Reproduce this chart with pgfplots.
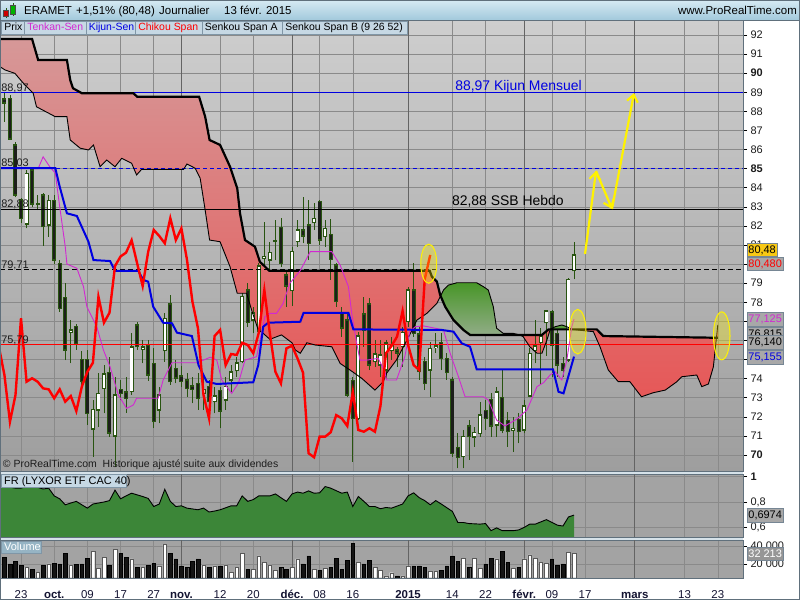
\documentclass[border=0pt]{standalone}
\usepackage{fontspec}
\setmainfont{Liberation Sans}
\usepackage{pgfplots}
\usepackage{pgfplotstable}
\pgfplotsset{compat=1.18}
\usetikzlibrary{arrows.meta}

\definecolor{bgtop}{RGB}{206,206,206}
\definecolor{bgbot}{RGB}{158,158,158}
\definecolor{panelbg}{RGB}{163,163,163}
\definecolor{gridc}{RGB}{138,138,138}
\definecolor{monthc}{RGB}{100,100,100}
\definecolor{framec}{RGB}{96,112,124}
\definecolor{sepc}{RGB}{214,226,233}
\definecolor{wickc}{RGB}{40,84,16}
\definecolor{bodyblack}{RGB}{28,30,26}
\definecolor{tenkan}{RGB}{210,40,210}
\definecolor{kijun}{RGB}{0,0,225}
\definecolor{chikou}{RGB}{255,0,0}
\definecolor{redtop}{RGB}{214,152,152}
\definecolor{redbot}{RGB}{230,88,88}
\definecolor{greentop}{RGB}{72,150,40}
\definecolor{greenbot}{RGB}{145,172,135}
\definecolor{rsgreen}{RGB}{60,134,56}
\definecolor{titletop}{RGB}{214,234,243}
\definecolor{titlebot}{RGB}{162,201,220}
\definecolor{tagfill}{RGB}{198,216,228}
\definecolor{tagedge}{RGB}{128,150,166}
\definecolor{boxfill}{RGB}{168,168,168}
\definecolor{boxedge}{RGB}{118,134,148}
\definecolor{datec}{RGB}{20,20,50}
\definecolor{txtc}{RGB}{28,28,28}

% daily candles: index (0 = 23 Sept 2014), open, high, low, close, volume
\pgfplotstableread{
i o h l c v
-3 88.65 89.00 87.45 88.44 27000
-2 88.68 88.85 86.50 86.54 20000
-1 86.24 86.40 83.50 83.62 23300
0 83.36 83.45 82.14 82.40 18900
1 82.10 84.93 81.87 84.76 16300
2 84.93 85.05 82.98 83.15 14400
3 83.12 83.62 82.83 83.17 10800
4 83.62 83.71 80.96 81.96 18900
5 82.05 83.62 81.43 83.32 20000
6 83.32 83.62 80.00 80.21 20800
7 80.04 80.20 77.50 77.68 20000
8 78.26 79.00 74.97 75.50 31900
9 76.43 77.07 74.80 76.55 18900
10 76.72 76.85 75.50 75.85 19600
11 75.00 75.46 73.31 73.84 20000
12 75.00 75.50 71.57 72.18 26300
13 71.35 72.90 69.91 72.39 34400
14 72.36 74.28 71.48 73.23 15200
15 73.49 74.71 72.18 74.24 27400
16 74.31 75.15 70.96 71.14 18900
17 70.99 74.10 69.39 73.14 36300
18 73.44 73.93 72.88 73.23 31900
19 73.31 74.10 72.20 72.97 27000
20 73.31 76.37 73.14 75.67 25600
21 76.81 76.98 75.50 75.67 16300
22 75.54 76.02 74.80 75.67 16300
23 75.76 76.00 73.90 74.19 18900
24 74.80 75.59 71.40 71.74 20800
25 72.36 73.58 71.66 73.14 17800
26 75.46 77.42 74.89 77.16 41900
27 77.91 78.38 73.67 73.84 31900
28 74.54 74.98 73.75 74.02 25600
29 74.14 74.66 73.58 73.84 17800
30 73.93 74.28 73.05 73.49 15900
31 73.61 74.10 72.71 73.44 23300
32 73.75 74.28 72.36 72.97 25600
33 73.23 74.10 72.36 73.44 18900
34 73.58 73.93 72.18 72.79 15900
35 72.79 73.58 72.18 73.09 17800
36 73.37 73.58 71.40 72.30 17800
37 72.88 74.10 72.36 73.58 18900
38 73.93 74.71 73.31 74.36 10800
39 74.41 75.15 74.10 74.83 16300
40 74.89 78.47 74.80 78.29 31900
41 78.64 78.99 76.72 76.93 14400
42 77.07 77.77 76.37 77.45 14400
43 76.46 80.04 76.37 79.90 28900
44 80.30 82.20 79.85 80.40 21900
45 80.21 81.17 79.69 80.60 18900
46 81.20 82.30 80.20 81.25 13300
47 81.93 82.40 79.86 80.04 16300
48 79.43 79.69 77.77 78.85 14400
49 78.60 80.91 77.80 80.65 16300
50 81.17 82.30 80.91 81.79 25600
51 81.79 83.53 81.09 81.47 20000
52 82.05 83.36 80.21 81.09 28900
53 82.17 83.18 81.79 82.40 14400
54 83.27 83.36 81.00 81.26 13300
55 81.43 82.30 80.91 81.87 15200
56 81.56 82.34 79.17 80.25 15900
57 79.95 80.04 77.77 78.03 26300
58 77.42 77.77 76.20 76.64 14400
59 77.07 77.50 73.05 73.14 24400
60 73.89 74.10 69.65 71.92 43000
61 71.92 76.46 71.83 76.23 21900
62 77.38 78.29 75.67 76.55 20000
63 77.91 78.21 74.45 74.71 24400
64 74.89 76.02 74.62 75.29 16300
65 74.71 76.02 74.10 75.24 13300
66 74.45 76.02 73.93 75.88 6700
67 75.46 76.20 74.98 75.76 10300
68 75.50 75.67 74.62 75.33 6700
69 75.67 76.72 74.62 76.41 6700
70 76.98 78.82 76.72 78.64 17800
71 78.64 80.04 76.20 76.37 17800
72 76.34 76.72 73.93 74.36 17800
73 74.89 75.15 73.40 73.75 16300
74 74.45 75.93 73.05 75.59 11500
75 75.62 76.37 75.33 75.72 11500
76 75.90 76.37 74.45 75.06 13300
77 75.06 75.33 73.93 74.31 17800
78 73.93 74.10 69.91 70.09 28900
79 70.40 71.13 69.30 69.88 23300
80 69.91 71.31 69.30 70.96 26300
81 71.52 71.83 69.74 70.96 16300
82 70.93 71.48 70.43 71.19 26300
83 71.13 72.79 70.96 72.09 15200
84 72.32 72.88 71.31 71.92 20000
85 72.92 73.23 70.96 71.52 26300
86 71.57 73.58 70.96 73.31 25600
87 73.02 74.45 71.13 71.31 34400
88 71.80 72.27 70.43 71.22 21900
89 71.28 72.00 70.17 71.40 15200
90 71.87 72.18 70.61 71.22 15900
91 71.31 72.88 71.13 72.57 25600
92 73.09 75.59 73.05 75.33 30000
93 75.46 77.07 74.80 75.71 26300
94 75.88 76.64 73.67 76.20 21900
95 76.93 77.60 75.20 77.54 20800
96 77.50 77.60 74.10 75.76 25600
97 76.37 76.55 74.10 74.71 18900
98 74.80 75.15 74.10 74.45 20000
99 74.98 79.25 74.89 79.20 33000
100 79.65 81.17 79.20 80.48 32213
}\ohlc

\pgfplotstableread{
i p
-3.8 85.03
3.1 85.00
4.0 85.62
5.2 85.10
6.2 84.76
7.0 83.00
8.0 80.91
8.3 80.00
10.1 79.78
11.3 78.82
11.9 77.77
13.7 76.72
14.9 75.50
16.1 74.62
17.6 73.14
19.1 72.44
20.3 72.62
20.9 72.97
24.8 72.97
25.7 73.93
27.3 74.83
31.8 74.83
33.0 74.97
34.2 75.12
35.4 74.97
36.3 73.93
38.1 73.23
39.3 73.75
40.5 74.97
42.6 75.15
44.1 77.24
45.0 77.42
46.2 77.42
47.4 77.94
48.6 78.99
50.5 79.66
52.3 80.65
56.2 80.65
57.7 79.95
59.2 78.82
59.8 77.42
60.7 75.85
61.3 74.97
62.5 74.97
64.6 75.06
65.8 74.36
66.1 73.93
67.9 73.93
69.4 75.15
70.3 76.46
71.3 76.72
72.8 76.76
74.9 76.64
76.4 76.55
77.6 75.33
79.1 74.10
80.3 73.05
83.6 73.05
84.5 72.88
86.0 71.83
87.5 71.52
89.6 71.87
91.5 72.36
93.3 73.58
94.5 73.79
95.7 74.20
96.6 74.36
97.8 73.93
98.7 74.97
99.6 76.72
100 77.125
}\tenkan

\pgfplotstableread{
i p
-3.8 85.03
6.2 85.03
7.0 84.05
8.3 82.66
10.1 82.52
12.2 81.17
13.1 80.21
16.1 80.16
17.0 79.65
21.2 79.65
22.1 79.17
23.0 79.08
23.9 77.77
25.7 76.93
27.3 76.90
28.2 76.41
30.9 76.23
32.1 74.71
33.6 73.84
35.4 73.72
42.0 73.81
42.9 74.71
43.8 76.72
44.7 76.93
50.5 76.98
51.1 77.45
59.2 77.45
60.1 76.58
76.1 76.55
78.2 76.46
79.7 75.85
81.2 75.67
82.4 74.49
96.2 74.49
97.2 73.31
98.1 73.23
100 75.155
}\kijun

\pgfplotstableread{
i p
-3.8 90.34
-2.9 90.17
-1.1 89.99
0.7 89.38
2.2 88.95
2.8 88.24
6.2 87.72
8.3 87.72
8.9 86.50
10.7 86.07
12.2 85.98
13.1 86.24
14.3 85.10
15.5 85.45
17.0 85.10
18.2 85.54
20.0 85.28
20.9 84.67
21.8 84.96
29.4 84.96
30.0 85.24
31.5 85.02
32.4 84.49
33.3 82.83
34.1 81.26
36.0 81.17
37.8 79.86
39.1 78.47
40.8 78.47
41.7 77.59
42.9 76.55
43.8 76.37
45.0 76.06
47.1 76.29
49.0 75.88
49.6 75.50
50.5 75.33
51.7 75.88
53.2 75.76
56.2 75.67
57.7 74.80
59.5 74.45
61.6 74.02
64.0 73.40
65.5 73.84
66.1 74.28
67.9 74.98
69.8 76.02
71.6 77.07
73.4 77.42
75.2 77.94
76.4 78.64
77.3 78.90
78.8 79.02
82.4 79.02
83.6 78.82
84.5 78.64
85.4 77.77
86.0 76.64
87.2 76.37
89.0 76.37
90.2 76.29
90.8 76.20
92.0 75.67
93.3 75.33
94.2 75.33
95.1 76.02
95.7 76.58
96.6 76.72
97.8 76.81
98.7 76.72
99.6 76.58
103.5 76.46
104.7 75.67
106.2 74.45
108.0 73.84
110.1 73.84
112.2 73.05
114.3 73.26
116.5 73.40
118.6 73.84
119.5 74.10
122.2 74.19
123.1 73.58
124.3 73.72
125.2 74.62
126.0 76.815
}\ssa

\pgfplotstableread{
i p
-3.8 91.79
2.0 91.79
3.1 90.69
8.3 90.69
8.9 89.64
9.4 89.21
11.0 88.95
20.3 88.95
21.0 88.77
32.2 88.77
33.3 87.72
34.1 86.50
36.0 86.24
37.8 85.10
39.1 83.97
39.6 82.66
40.5 81.26
42.3 80.91
43.2 80.12
44.9 79.65
73.9 79.65
74.3 79.34
75.2 79.08
75.8 78.38
76.7 77.77
78.2 77.07
80.0 76.55
81.2 76.29
94.2 76.29
95.4 76.58
104.1 76.58
105.3 76.23
126.0 76.14
}\ssb

% cloud outline: Senkou A forward, then Senkou B backward
\pgfplotstableread{
i p
-3.8 90.34
-2.9 90.17
-1.1 89.99
0.7 89.38
2.2 88.95
2.8 88.24
6.2 87.72
8.3 87.72
8.9 86.50
10.7 86.07
12.2 85.98
13.1 86.24
14.3 85.10
15.5 85.45
17.0 85.10
18.2 85.54
20.0 85.28
20.9 84.67
21.8 84.96
29.4 84.96
30.0 85.24
31.5 85.02
32.4 84.49
33.3 82.83
34.1 81.26
36.0 81.17
37.8 79.86
39.1 78.47
40.8 78.47
41.7 77.59
42.9 76.55
43.8 76.37
45.0 76.06
47.1 76.29
49.0 75.88
49.6 75.50
50.5 75.33
51.7 75.88
53.2 75.76
56.2 75.67
57.7 74.80
59.5 74.45
61.6 74.02
64.0 73.40
65.5 73.84
66.1 74.28
67.9 74.98
69.8 76.02
71.6 77.07
73.4 77.42
75.2 77.94
76.4 78.64
77.3 78.90
78.8 79.02
82.4 79.02
83.6 78.82
84.5 78.64
85.4 77.77
86.0 76.64
87.2 76.37
89.0 76.37
90.2 76.29
90.8 76.20
92.0 75.67
93.3 75.33
94.2 75.33
95.1 76.02
95.7 76.58
96.6 76.72
97.8 76.81
98.7 76.72
99.6 76.58
103.5 76.46
104.7 75.67
106.2 74.45
108.0 73.84
110.1 73.84
112.2 73.05
114.3 73.26
116.5 73.40
118.6 73.84
119.5 74.10
122.2 74.19
123.1 73.58
124.3 73.72
125.2 74.62
126.0 76.815
126.0 76.14
105.3 76.23
104.1 76.58
95.4 76.58
94.2 76.29
81.2 76.29
80.0 76.55
78.2 77.07
76.7 77.77
75.8 78.38
75.2 79.08
74.3 79.34
73.9 79.65
44.9 79.65
43.2 80.12
42.3 80.91
40.5 81.26
39.6 82.66
39.1 83.97
37.8 85.10
36.0 86.24
34.1 86.50
33.3 87.72
32.2 88.77
21.0 88.77
20.3 88.95
11.0 88.95
9.4 89.21
8.9 89.64
8.3 90.69
3.1 90.69
2.0 91.79
-3.8 91.79
}\cloud

% bullish stretches of the cloud (Senkou A above Senkou B)
\pgfplotstableread{
i p
75.85 78.34
76.4 78.64
77.3 78.90
78.8 79.02
82.4 79.02
83.6 78.82
84.5 78.64
85.4 77.77
86.0 76.64
87.2 76.37
89.0 76.37
90.2 76.29
81.2 76.29
80.0 76.55
78.2 77.07
76.7 77.77
}\greenA

\pgfplotstableread{
i p
95.6 76.56
95.7 76.58
96.6 76.72
97.8 76.81
98.7 76.72
99.6 76.58
}\greenB

\pgfplotstableread{
i r
-3.8 0.915
-3 0.9245
-1 0.9085
0 0.9085
1 0.9245
3 0.915
4 0.902
5 0.9085
6 0.848
7 0.825
8 0.778
9 0.792
10 0.805
11 0.778
12 0.752
13 0.784
15 0.800
16 0.811
17 0.893
18 0.825
19 0.848
20 0.869
22 0.843
23 0.828
24 0.7645
25 0.784
26 0.899
27 0.805
28 0.7645
29 0.770
30 0.752
32 0.739
33 0.752
34 0.7215
35 0.729
36 0.739
38 0.770
39 0.770
40 0.848
41 0.805
42 0.819
43 0.848
45 0.848
46 0.863
47 0.834
48 0.805
49 0.863
50 0.878
51 0.869
52 0.887
53 0.869
54 0.872
55 0.921
56 0.9085
58 0.869
59 0.878
60 0.7645
61 0.843
62 0.805
63 0.7645
64 0.7645
65 0.747
66 0.757
67 0.752
69 0.784
70 0.848
71 0.872
72 0.834
73 0.811
74 0.778
75 0.811
76 0.784
78 0.726
79 0.639
80 0.639
81 0.631
83 0.6265
84 0.631
85 0.575
86 0.597
87 0.575
88 0.575
89 0.575
90 0.581
91 0.601
92 0.6265
93 0.6265
95 0.6615
97 0.618
98 0.6115
99 0.6825
100 0.6974
}\rs

\pgfplotsset{
  panel/.style={
    scale only axis, width=743bp,
    xmin=-3.8, xmax=130.56,
    axis line style={draw=framec, line width=0.8bp},
    xtick={0,6,12,18,24,36,42,54,60,78,84,96,102,120,126},
    extra x ticks={29,49,70,91,111},
    extra x tick style={grid style={monthc, line width=0.9bp}},
    xmajorgrids, ymajorgrids,
    grid style={gridc, line width=0.5bp},
    xtick style={draw=none},
    ytick pos=right, yticklabel pos=right,
    ytick style={black, line width=0.6bp},
    tick align=outside, major tick length=4bp,
    yticklabel style={font=\fontsize{11}{12}\selectfont, anchor=west, text=txtc},
    scaled y ticks=false,
  },
  % vertical strokes from y to y+v, used for wicks and candle bodies
  stroke/.style={quiver={u=0, v={#1}}, forget plot},
}
\tikzset{
  levelnode/.style={anchor=base west, inner sep=0pt, text=txtc, font=\fontsize{11}{12}\selectfont},
}

\newcommand{\legtag}[4]{%
  \filldraw[fill=tagfill, draw=tagedge, line width=0.6bp] (#1,566) rectangle (#2,579);
  \node[anchor=base west, inner sep=0pt, text=#3, font=\fontsize{10.5}{11}\selectfont] at (#1+2.6,569.2) {#4};}
\newcommand{\valbox}[5]{%
  \node[anchor=west, draw=boxedge, fill=#3, text=#4, inner sep=1.6bp, line width=0.6bp,
        minimum height=13.5bp, font=\fontsize{11}{12}\selectfont] at (#1,#2) {#5};}

\begin{document}
\begin{tikzpicture}[x=1bp, y=1bp]
\fill[white] (0,0) rectangle (800,600);
\fill[sepc] (0,22) rectangle (743,580);
\shade[top color=bgtop, bottom color=bgbot] (0,129) rectangle (743,580);
\fill[panelbg] (0,63) rectangle (743,126);
\fill[panelbg] (0,22) rectangle (743,60);

% ---------------- price panel ----------------
\begin{axis}[panel,
  at={(0bp,129bp)}, anchor=south west, height=451bp,
  ymin=69.162, ymax=92.786,
  xticklabels={}, extra x tick labels={},
  ytick={70,...,92},
  yticklabels={\textbf{70},71,72,73,74,75,76,77,78,79,\textbf{80},81,82,83,84,\textbf{85},86,87,88,89,\textbf{90},91,92},
]
% Ichimoku cloud
\addplot[draw=none, top color=redtop, bottom color=redbot, forget plot] table[x=i, y=p] {\cloud};
\addplot[draw=none, top color=greentop, bottom color=greenbot, forget plot] table[x=i, y=p] {\greenA};
\addplot[draw=none, fill=greentop!80!greenbot, forget plot] table[x=i, y=p] {\greenB};

% candlesticks: wicks, body outline, white body, black body
\addplot[stroke={\thisrow{h}-\thisrow{l}}, wickc, line width=0.8bp]
  table[x=i, y=l] {\ohlc};
\addplot[stroke={abs(\thisrow{o}-\thisrow{c})+0.07}, wickc, line width=4bp]
  table[x=i, y expr={min(\thisrow{o},\thisrow{c})-0.035}] {\ohlc};
\addplot[stroke={max(abs(\thisrow{o}-\thisrow{c})-0.08,0)}, white, line width=2.3bp]
  table[x=i, y expr={min(\thisrow{o},\thisrow{c})+0.04}] {\ohlc};
\addplot[stroke={max(\thisrow{o}-\thisrow{c}-0.08,0)}, bodyblack, line width=2.3bp]
  table[x=i, y expr={\thisrow{c}+0.04}] {\ohlc};

% reference levels
\addplot[kijun, line width=1bp] coordinates {(-3.8,88.97) (130.56,88.97)};
\addplot[kijun, line width=1bp, dash pattern=on 4bp off 3bp] coordinates {(-3.8,85.03) (130.56,85.03)};
\addplot[black, line width=1bp] coordinates {(-3.8,82.88) (130.56,82.88)};
\addplot[black, line width=1bp, dash pattern=on 4.5bp off 3.5bp] coordinates {(-3.8,79.71) (130.56,79.71)};
\addplot[chikou, line width=1bp] coordinates {(-3.8,75.79) (130.56,75.79)};

% Senkou spans, Tenkan, Kijun, Chikou
\addplot[black, line width=0.9bp] table[x=i, y=p] {\ssa};
\addplot[black, line width=2.2bp] table[x=i, y=p] {\ssb};
\addplot[tenkan, line width=0.9bp] table[x=i, y=p] {\tenkan};
\addplot[kijun, line width=2bp] table[x=i, y=p] {\kijun};
\addplot[chikou, line width=2.4bp] table[x expr=\thisrow{i}-26, y=c] {\ohlc};

% level captions
\node[levelnode] at (axis cs:-3.6,88.97) [yshift=1.2bp] {88,97};
\node[levelnode] at (axis cs:-3.6,85.03) [yshift=1.2bp] {85,03};
\node[levelnode] at (axis cs:-3.6,82.88) [yshift=1.2bp] {82,88};
\node[levelnode] at (axis cs:-3.6,79.71) [yshift=1.2bp] {79,71};
\node[levelnode] at (axis cs:-3.6,75.79) [yshift=1.2bp] {75,79};
\node[anchor=base west, inner sep=0pt, text=kijun, font=\fontsize{14}{15}\selectfont] at (axis cs:78.5,89.07) {88,97 Kijun Mensuel};
\node[anchor=base west, inner sep=0pt, text=black, font=\fontsize{14}{15}\selectfont] at (axis cs:77.9,83.09) {82,88 SSB Hebdo};

% highlights and projected path
\filldraw[draw=yellow, fill=yellow, fill opacity=0.32, line width=1bp] (axis cs:73.73,80.02) ellipse [x radius=8bp, y radius=19.6bp];
\filldraw[draw=yellow, fill=yellow, fill opacity=0.32, line width=1bp] (axis cs:100.67,76.46) ellipse [x radius=8.3bp, y radius=22.3bp];
\filldraw[draw=yellow, fill=yellow, fill opacity=0.32, line width=1bp] (axis cs:126.71,76.24) ellipse [x radius=8.3bp, y radius=24bp];
\draw[yellow, line width=2.2bp, -{Straight Barb[length=7bp, width=11bp]}] (axis cs:101.99,80.53) -- (axis cs:103.98,84.88);
\draw[yellow, line width=2.2bp, -{Straight Barb[length=7bp, width=11bp]}] (axis cs:103.98,84.88) -- (axis cs:106.87,82.89);
\draw[yellow, line width=2.2bp, -{Straight Barb[length=7bp, width=11bp]}] (axis cs:106.87,82.89) -- (axis cs:110.85,88.96);

\node[anchor=base west, inner sep=0pt, text=txtc, font=\fontsize{10.5}{11}\selectfont] at (axis cs:-3.3,69.34) {© ProRealTime.com\ \ Historique ajusté suite aux dividendes};
\end{axis}

% ---------------- relative strength panel ----------------
\begin{axis}[panel,
  at={(0bp,63bp)}, anchor=south west, height=63bp,
  ymin=0.5255, ymax=1.0196,
  xticklabels={}, extra x tick labels={},
  ytick={0.6,0.8,1}, yticklabels={{0,6},{0,8},\textbf{1}},
]
\addplot[fill=rsgreen, draw=none, forget plot] table[x=i, y=r] {\rs} \closedcycle;
\addplot[black, line width=0.9bp] table[x=i, y=r] {\rs};
\end{axis}

% ---------------- volume panel ----------------
\begin{axis}[panel,
  at={(0bp,22bp)}, anchor=south west, height=38bp,
  ymin=4444, ymax=46667,
  ytick={20000,40000}, yticklabels={20 000,40 000},
  xticklabels={23,\textbf{oct.},09,17,27,12,20,08,16,14,22,09,17,13,23},
  extra x tick labels={\textbf{nov.},\textbf{déc.},\textbf{2015},\textbf{févr.},\textbf{mars}},
  xticklabel style={font=\fontsize{11.5}{12}\selectfont, text=datec, anchor=base, yshift=-17bp},
]
\addplot[ybar, bar width=3.6bp, bar shift=0pt, fill=white, draw=gray!70!black, line width=0.4bp]
  table[x=i, y=v] {\ohlc};
\addplot[ybar, bar width=3.6bp, bar shift=0pt, fill=black!92, draw=black, line width=0.4bp]
  table[x=i, y expr={\thisrow{c}<\thisrow{o} ? \thisrow{v} : 0}] {\ohlc};
\end{axis}

% ---------------- title bar ----------------
\shade[top color=titletop, bottom color=titlebot] (0,580) rectangle (800,600);
\draw[framec, line width=0.6bp] (0,580) -- (800,580);
\draw[wickc, line width=0.6bp] (6,582) -- (6,592);
\filldraw[fill=red!80!black, draw=black!70, line width=0.4bp] (3.5,584) rectangle (8.5,590);
\draw[wickc, line width=0.6bp] (13,584) -- (13,597);
\filldraw[fill=green!70!black, draw=black!70, line width=0.4bp] (10.5,586) rectangle (15.5,595);
\begin{scope}[every node/.style={anchor=base west, inner sep=0pt, font=\fontsize{11.5}{12}\selectfont, text=black}]
\node at (24,585) {ERAMET};
\node at (76,585) {+1,51\% (80,48)};
\node at (159,585) {Journalier};
\node at (224,585) {13 févr. 2015};
\node[anchor=base east] at (797,585) {www.ProRealTime.com};
\end{scope}

% ---------------- series tags ----------------
\legtag{1.5}{24.5}{black}{Prix}
\legtag{24.5}{86}{tenkan}{Tenkan-Sen}
\legtag{86}{135.5}{kijun}{Kijun-Sen}
\legtag{135.5}{202}{chikou}{Chikou Span}
\legtag{202}{282.5}{black}{Senkou Span A}
\legtag{282.5}{407}{black}{Senkou Span B (9 26 52)}
\filldraw[fill=tagfill, draw=tagedge, line width=0.6bp] (1.5,112.5) rectangle (126,125.5);
\node[anchor=base west, inner sep=0pt, font=\fontsize{11}{12}\selectfont, text=black] at (4,115.5) {FR (LYXOR ETF CAC 40)};
\filldraw[fill={rgb,255:red,150;green,180;blue,196}, draw=tagedge, line width=0.6bp] (1.5,46.5) rectangle (41,59);
\node[anchor=base west, inner sep=0pt, font=\fontsize{11}{12}\selectfont, text=white] at (4,49.5) {Volume};

% ---------------- last values ----------------
\valbox{746.5}{350}{{rgb,255:red,248;green,200;blue,20}}{black}{80,48}
\valbox{746.5}{336}{boxfill}{chikou}{80,480}
\valbox{746.5}{280.5}{boxfill}{tenkan}{77,125}
\valbox{746.5}{265.5}{boxfill}{black}{76,815}
\valbox{746.5}{257.5}{boxfill}{black}{76,140}
\valbox{746.5}{242.5}{boxfill}{kijun}{75,155}
\valbox{746.5}{84.5}{boxfill}{black}{0,6974}
\valbox{746.5}{46}{{rgb,255:red,150;green,150;blue,150}}{white}{32 213}

\draw[framec, line width=1bp] (0.5,0.5) rectangle (799.5,599.5);
\pgfresetboundingbox
\useasboundingbox (0,0) rectangle (800,600);
\end{tikzpicture}
\end{document}
